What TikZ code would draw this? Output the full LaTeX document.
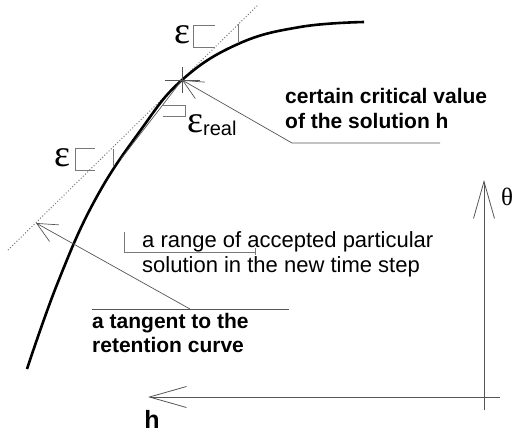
\documentclass[tikz,border=0pt]{standalone}
\usepackage{fontspec}
\setmainfont{Liberation Sans}
\newfontfamily\greekfont{Liberation Serif}
\usetikzlibrary{arrows.meta,positioning}
\definecolor{leadgray}{RGB}{85,85,85}
\definecolor{dimgray}{RGB}{120,120,120}
\tikzset{
    retcurve/.style={line width=2.6pt, black},
    tangentline/.style={dotted, line width=1pt, dimgray},
    leader/.style={line width=0.7pt, leadgray},
    leaderarrow/.style={leader, -{Straight Barb[length=20pt, width=19pt, line width=0.7pt]}},
    axisarrow/.style={line width=0.8pt, leadgray, -{Straight Barb[length=37pt, width=21pt, line width=0.8pt]}},
    dimline/.style={line width=0.6pt, dimgray},
    boldtxt/.style={font=\fontsize{21}{24}\selectfont\bfseries, inner sep=0pt, anchor=base west},
    plaintxt/.style={font=\fontsize{22}{25}\selectfont, inner sep=0pt, anchor=base west},
    epslabel/.style={font=\fontsize{38}{38}\selectfont\greekfont, inner sep=0pt}
}
\newcommand{\epsreal}{ε\raisebox{-3pt}{\fontsize{20}{20}\selectfont\rmfamily real}}

\begin{document}
\begin{tikzpicture}[x=1pt, y=-1pt]
    \useasboundingbox (0,0) rectangle (518,432);

    % retention curve and its tangent
    \draw[tangentline] (8,250) -- (258,5);
    \draw[retcurve] plot[smooth, tension=0.7] coordinates
        {(27,369) (58,282) (95,200) (140,131) (182,80) (238,44) (300,27) (364,22)};

    % critical point
    \coordinate (crit) at (182,80);
    \coordinate (chordend) at (121,159);
    \draw[leader] (165,80) -- (200,80);
    \draw[leader] (182,67) -- (182,93);
    \draw[leader] (crit) -- (chordend);

    % epsilon marks
    \node[epslabel] (epstop) at (182,35) {ε};
    \draw[dimline] (215,25) -- (193,25) -- (193,47) -- (215,47);
    \draw[dimline] (238,24) -- (238,43);

    \node[epslabel] (epsleft) at (62,158) {ε};
    \draw[dimline] (95,148) -- (75,148) -- (75,170) -- (95,170);
    \draw[dimline] (113,149) -- (113,167);

    \node[epslabel, anchor=base west] (epsreal) at (187,132) {\epsreal};
    \draw[dimline] (163,105) -- (185,105) -- (185,116) -- (163,116);

    % critical value label
    \node[boldtxt] (crittxt1) at (285,103) {certain critical value};
    \node[boldtxt] (crittxt2) at ([yshift=-25pt]crittxt1.base west) {of the solution h};
    \coordinate (critbend) at (292,143);
    \coordinate (critend) at (440,143);
    \draw[leaderarrow] (critend) -- (critbend) -- (crit);

    % accepted range
    \node[plaintxt] (rangetxt1) at (142,247) {a range of accepted particular};
    \node[plaintxt] (rangetxt2) at ([yshift=-25pt]rangetxt1.base west) {solution in the new time step};
    \coordinate (rangeleft) at (124,252);
    \coordinate (rangeright) at (255,252);
    \draw[dimline] (124,232) -- (124,253);
    \draw[dimline] (rangeleft) -- (rangeright);
    \draw[dimline] (255,248) -- (255,255);

    % tangent label
    \node[boldtxt] (tantxt1) at (92,328) {a tangent to the};
    \node[boldtxt] (tantxt2) at ([yshift=-24pt]tantxt1.base west) {retention curve};
    \coordinate (tanleft) at (92,309);
    \coordinate (tanright) at (289,309);
    \coordinate (tanbend) at (190,309);
    \coordinate (tanpoint) at (36,223);
    \draw[leader] (tanleft) -- (tanright);
    \draw[leaderarrow] (tanbend) -- (tanpoint);

    % axes
    \coordinate (origin) at (484,397);
    \coordinate (thetatip) at (484,180);
    \coordinate (htip) at (148,397);
    \draw[axisarrow] (484,410) -- (thetatip);
    \draw[axisarrow] (500,397) -- (htip);
    \node[font=\fontsize{25}{25}\selectfont\greekfont, inner sep=0pt] (thetalbl) at (507,197) {θ};
    \node[font=\fontsize{25}{25}\selectfont\bfseries, inner sep=0pt] (hlbl) at (152,419) {h};
\end{tikzpicture}
\end{document}
